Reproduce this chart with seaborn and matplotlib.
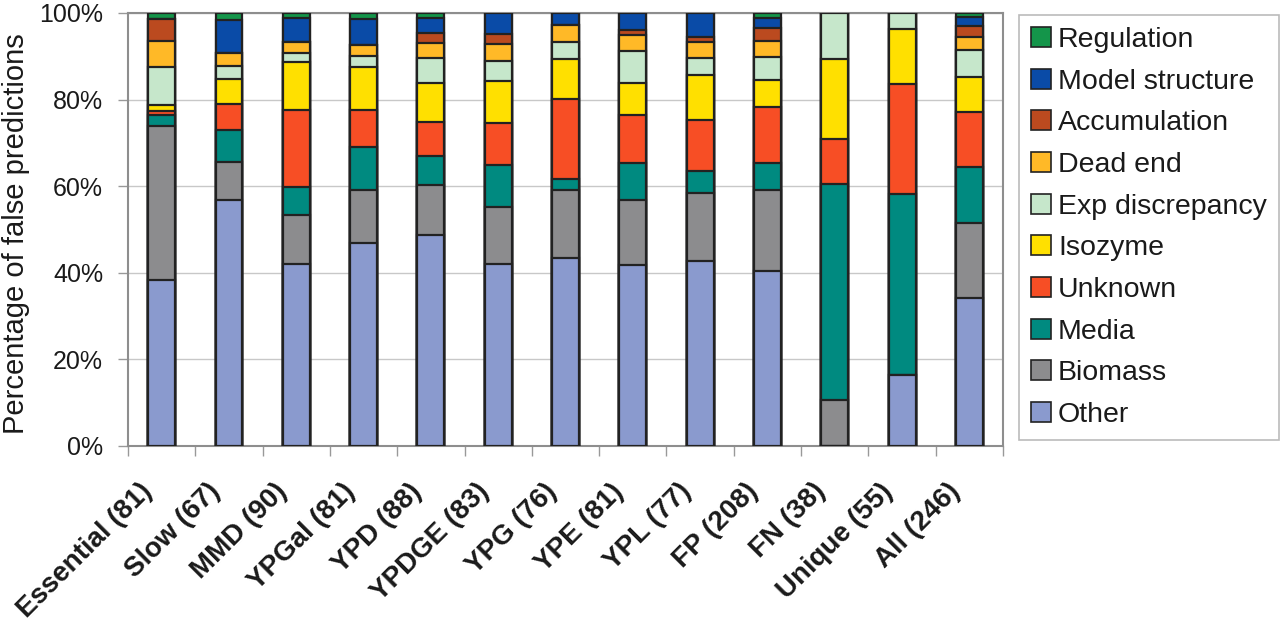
import numpy as np
import pandas as pd
import matplotlib
matplotlib.use("Agg")
import matplotlib.pyplot as plt
from matplotlib.patches import Patch
from matplotlib.transforms import ScaledTranslation
import seaborn as sns

categories = ["Essential (81)", "Slow (67)", "MMD (90)", "YPGal (81)", "YPD (88)",
              "YPDGE (83)", "YPG (76)", "YPE (81)", "YPL (77)", "FP (208)",
              "FN (38)", "Unique (55)", "All (246)"]

# segment heights (percent), bottom to top
other           = [38.3, 56.7, 42.0, 46.8, 48.7, 42.0, 43.5, 41.9, 42.8, 40.4, 0.0, 16.4, 34.1]
biomass         = [35.6,  8.8, 11.3, 12.3, 11.5, 13.3, 15.6, 14.9, 15.7, 18.7, 10.6, 0.0, 17.5]
media           = [ 2.5,  7.5,  6.6, 10.0,  6.8,  9.7,  2.6,  8.6,  5.1,  6.3, 49.8, 41.7, 12.9]
unknown         = [ 1.0,  6.0, 17.7,  8.5,  7.9,  9.7, 18.5, 11.0, 11.7, 13.0, 10.6, 25.5, 12.6]
isozyme         = [ 1.4,  5.8, 11.1,  9.9,  9.0,  9.6,  9.1,  7.5, 10.3,  6.1, 18.4, 12.6,  8.2]
exp_discrepancy = [ 8.7,  3.0,  2.1,  2.5,  5.8,  4.7,  4.0,  7.3,  3.9,  5.3, 10.6,  3.8,  6.2]
dead_end        = [ 6.1,  3.0,  2.4,  2.5,  3.3,  3.8,  3.9,  3.8,  3.9,  3.8,  0.0,  0.0,  3.0]
accumulation    = [ 4.9,  0.0,  0.0,  0.0,  2.3,  2.4,  0.0,  1.1,  1.1,  2.9,  0.0,  0.0,  2.5]
model_structure = [ 0.0,  7.6,  5.6,  6.2,  3.6,  4.8,  2.8,  3.9,  5.5,  2.4,  0.0,  0.0,  2.0]
regulation      = [ 1.5,  1.6,  1.2,  1.3,  1.1,  0.0,  0.0,  0.0,  0.0,  1.1,  0.0,  0.0,  1.0]

series_names = ["Other", "Biomass", "Media", "Unknown", "Isozyme", "Exp discrepancy",
                "Dead end", "Accumulation", "Model structure", "Regulation"]
series_values = [other, biomass, media, unknown, isozyme, exp_discrepancy,
                 dead_end, accumulation, model_structure, regulation]
colors = ["#8A9ACE", "#8C8C8E", "#008A80", "#F74E25", "#FFE000", "#C6E7CB",
          "#FFB927", "#BB4A1F", "#0A4BA7", "#14954A"]

sns.set_style("white")
plt.rcParams["font.family"] = ["Liberation Sans", "DejaVu Sans"]

fig = plt.figure(figsize=(12.8, 6.24), dpi=100)
ax = fig.add_axes([0.1, 0.2853, 0.6836, 0.6939])

# cumulative stacking: draw tallest totals first
cum = np.cumsum(np.array(series_values), axis=0)
for i in range(len(series_names) - 1, -1, -1):
    df = pd.DataFrame({"cat": categories, "val": cum[i]})
    sns.barplot(data=df, x="cat", y="val", order=categories, color=colors[i],
                saturation=1, width=0.4, edgecolor="#222222", linewidth=1.6,
                errorbar=None, ax=ax, zorder=3)

ax.set_xlim(-0.5, len(categories) - 0.5)
ax.set_ylim(0, 100)
ax.set_yticks(np.arange(0, 101, 20))
ax.set_yticklabels([f"{v}%" for v in range(0, 101, 20)])
ax.yaxis.grid(True, color="#C8C8C8", linewidth=1.0, zorder=0)
ax.xaxis.grid(False)
ax.set_axisbelow(True)
for s in ax.spines.values():
    s.set_visible(True)
    s.set_color("#8E8E8E")
    s.set_linewidth(1.5)

ax.set_xlabel("")
ax.set_ylabel("Percentage of false predictions", fontsize=21, color="#1a1a1a")
ax.yaxis.label.set_va("center")
ax.yaxis.set_label_coords(-0.128, 0.49)

ax.tick_params(axis="y", which="major", left=True, length=7, width=1, color="#999999",
               pad=11, labelsize=18, labelcolor="#1a1a1a", direction="out")
ax.set_xticks(np.arange(-0.5, len(categories), 1), minor=True)
ax.tick_params(axis="x", which="minor", bottom=True, length=7, width=1, color="#999999",
               direction="out")
ax.tick_params(axis="x", which="major", bottom=True, length=0, pad=30)
ax.set_xticks(np.arange(len(categories)))
ax.set_xticklabels(categories, rotation=45, ha="right", va="center",
                   rotation_mode="anchor", fontweight="bold", fontsize=20,
                   color="#1a1a1a")
offset = ScaledTranslation(-13 / 100, 0, fig.dpi_scale_trans)
for lab in ax.xaxis.get_majorticklabels():
    lab.set_transform(lab.get_transform() + offset)

handles = [Patch(facecolor=colors[i], edgecolor="#222222", linewidth=1.2,
                 label=series_names[i]) for i in range(len(series_names) - 1, -1, -1)]
leg = fig.legend(handles=handles, loc="upper left", bbox_to_anchor=(0.796, 0.976),
                 bbox_transform=fig.transFigure, fontsize=20.5, frameon=True,
                 fancybox=False, edgecolor="#BBBBBB", framealpha=1,
                 labelspacing=0.55, handlelength=0.7, handleheight=0.7,
                 handletextpad=0.25, borderpad=0.42, borderaxespad=0)
leg.get_frame().set_linewidth(1.2)
for t in leg.get_texts():
    t.set_color("#1a1a1a")

fig.savefig("out.png", dpi=100, facecolor="white")
